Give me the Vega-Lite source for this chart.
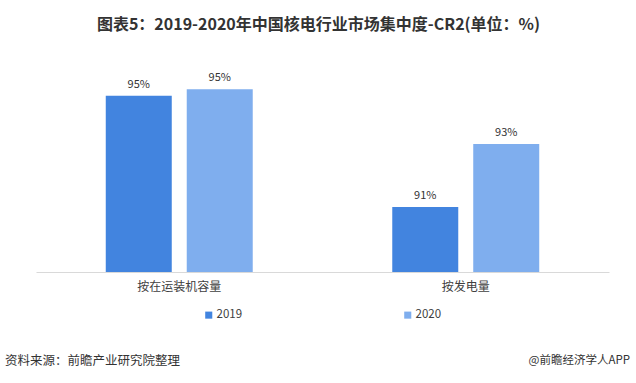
{
  "$schema": "https://vega.github.io/schema/vega-lite/v6.json",
  "width": 573,
  "height": 220,
  "autosize": {"type": "none"},
  "padding": {"left": 36, "top": 52, "right": 27, "bottom": 111},
  "background": "white",
  "config": {
    "view": {"stroke": null},
    "font": "Noto Sans CJK SC",
    "text": {"font": "Noto Sans CJK SC"}
  },
  "title": {
    "text": "图表5：2019-2020年中国核电行业市场集中度-CR2(单位：%)",
    "fontSize": 16,
    "fontWeight": "bold",
    "color": "#333333",
    "anchor": "middle",
    "dx": -4,
    "offset": 19
  },
  "data": {
    "values": [
      {"category": "按在运装机容量", "year": "2019", "value": 0.9453},
      {"category": "按在运装机容量", "year": "2020", "value": 0.9474},
      {"category": "按发电量", "year": "2019", "value": 0.9100},
      {"category": "按发电量", "year": "2020", "value": 0.9300}
    ]
  },
  "encoding": {
    "x": {
      "field": "category",
      "type": "nominal",
      "sort": ["按在运装机容量", "按发电量"],
      "scale": {"paddingInner": 0.487, "paddingOuter": 0.2435},
      "axis": {
        "title": null,
        "labelAngle": 0,
        "ticks": false,
        "domainColor": "#d9d9d9",
        "labelFontSize": 12,
        "labelColor": "#404040",
        "labelPadding": 9,
        "labelFont": "Noto Sans CJK SC"
      }
    },
    "xOffset": {
      "field": "year",
      "type": "nominal",
      "scale": {"paddingInner": 0.185, "paddingOuter": 0}
    },
    "y": {
      "field": "value",
      "type": "quantitative",
      "scale": {"domain": [0.8894, 0.9592], "nice": false, "zero": false},
      "axis": null
    }
  },
  "layer": [
    {
      "mark": {"type": "bar", "clip": true},
      "encoding": {
        "color": {
          "field": "year",
          "type": "nominal",
          "scale": {"domain": ["2019", "2020"], "range": ["#4284DF", "#7FAEEE"]},
          "legend": {
            "title": null,
            "orient": "none",
            "direction": "horizontal",
            "legendX": 167,
            "legendY": 257,
            "symbolType": "square",
            "symbolSize": 50,
            "symbolStrokeWidth": 0,
            "labelFontSize": 11.5,
            "labelColor": "#404040",
            "labelOffset": 2,
            "columnPadding": 159,
            "labelFont": "Noto Sans CJK SC"
          }
        }
      }
    },
    {
      "mark": {"type": "text", "baseline": "bottom", "dy": -6, "fontSize": 11, "color": "#333333"},
      "encoding": {
        "text": {"field": "value", "type": "quantitative", "format": ".0%"}
      }
    },
    {
      "data": {"values": [{"note": "资料来源：前瞻产业研究院整理"}]},
      "mark": {"type": "text", "align": "left", "baseline": "middle", "x": -31, "y": {"expr": "height + 89"}, "fontSize": 12.5, "color": "#333333"},
      "encoding": {"text": {"field": "note", "type": "nominal"}, "x": null, "xOffset": null, "y": null}
    },
    {
      "data": {"values": [{"note": "@前瞻经济学人APP"}]},
      "mark": {"type": "text", "align": "right", "baseline": "middle", "x": {"expr": "width + 21"}, "y": {"expr": "height + 89"}, "fontSize": 11.5, "color": "#333333"},
      "encoding": {"text": {"field": "note", "type": "nominal"}, "x": null, "xOffset": null, "y": null}
    }
  ]
}
